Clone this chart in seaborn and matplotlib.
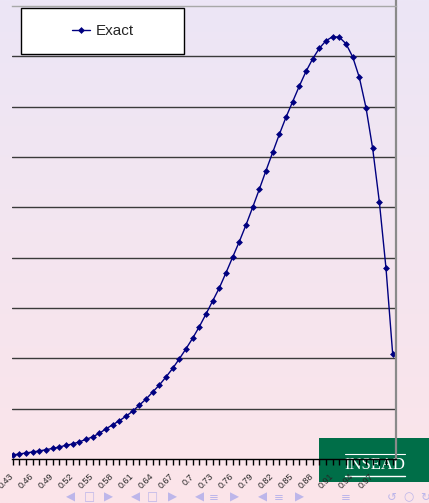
import numpy as np
import pandas as pd
import matplotlib
matplotlib.use('Agg')
import matplotlib.pyplot as plt
import seaborn as sns
from matplotlib.patches import Rectangle
from matplotlib.lines import Line2D

# Tamanho final em pixels
W, H, DPI = 429, 503, 100

# Categorias do eixo x (0.43 .. 1.00, passo 0.01)
categorias = [round(0.43 + 0.01 * i, 2) for i in range(58)]

# Serie "Exact" (unidades = linhas de grade)
exact = [0.08, 0.10, 0.12, 0.14, 0.16, 0.185, 0.21, 0.24, 0.27, 0.30,
         0.34, 0.39, 0.44, 0.51, 0.60, 0.68, 0.76, 0.85, 0.95, 1.07,
         1.19, 1.33, 1.47, 1.63, 1.80, 1.99, 2.19, 2.40, 2.63, 2.88,
         3.14, 3.40, 3.70, 4.01, 4.32, 4.65, 5.00, 5.36, 5.73, 6.09,
         6.45, 6.79, 7.10, 7.41, 7.70, 7.95, 8.16, 8.31, 8.39, 8.38,
         8.25, 7.99, 7.58, 6.98, 6.17, 5.11, 3.79, 2.09]

# rotulo a cada 3 categorias (o ultimo fica escondido)
rotulos = [f"{c:g}" if (i % 3 == 0 and i < 57) else "" for i, c in enumerate(categorias)]

df = pd.DataFrame({'pos': range(len(exact)), 'exact': exact})

sns.set_style('white')
plt.rcParams['font.family'] = ['Liberation Sans', 'DejaVu Sans']

fig = plt.figure(figsize=(W / DPI, H / DPI), dpi=DPI)

# Fundo em degrade (estilo beamer) + logo
bg = fig.add_axes([0, 0, 1, 1], zorder=0)
grad = np.linspace(0, 1, 256)[:, None, None]
topo = np.array([236, 230, 246]) / 255
base = np.array([252, 228, 233]) / 255
img = topo + (base - topo) * grad
bg.imshow(img, aspect='auto', extent=[0, W, H, 0])
bg.set_xlim(0, W)
bg.set_ylim(H, 0)
bg.axis('off')

bg.add_patch(Rectangle((319, 438), 110, 44, color='#006E48', lw=0))
bg.text(375, 465, 'INSEAD', color='white', ha='center', va='center',
        family='Liberation Serif', fontsize=12)
bg.plot([345, 405], [454, 454], color='white', lw=0.8)
bg.plot([345, 405], [476, 476], color='white', lw=1.0)

# simbolos de navegacao
nav = [(70, '◀'), (89, '□'), (108, '▶'), (135, '◀'), (152, '□'), (172, '▶'),
       (199, '◀'), (214, '≡'), (234, '▶'), (262, '◀'), (279, '≡'), (299, '▶'),
       (346, '≡'), (392, '↺'), (408, '○'), (425, '↻')]
for x, s in nav:
    bg.text(x, 497, s, color='#bdb6ea', ha='center', va='center',
            fontsize=8.5, family='DejaVu Sans')

# Grafico principal
ax = fig.add_axes([12 / W, 1 - 459 / H, (396 - 12) / W, (459 - 6) / H], zorder=2)
ax.set_facecolor('none')

sns.lineplot(data=df, x='pos', y='exact', marker='D', markersize=3.5,
             markeredgewidth=0, color='#000080', linewidth=1,
             label='Exact', ax=ax)

ax.set_xlim(-0.1, 57.5)
ax.set_ylim(0, 9)
ax.set_yticks(range(1, 9))
ax.yaxis.grid(True, color='#3a3a3a', lw=1)
ax.tick_params(axis='y', left=False, labelleft=False)
ax.set_xlabel('')
ax.set_ylabel('')

ax.spines['left'].set_visible(False)
ax.spines['right'].set_visible(False)
ax.spines['top'].set_color('#a8a8a8')
ax.spines['top'].set_linewidth(1)
ax.spines['bottom'].set_color('black')
ax.spines['bottom'].set_linewidth(1)

ax.set_xticks(range(len(categorias)))
ax.set_xticklabels(rotulos)
ax.tick_params(axis='x', direction='out', length=4, width=1, color='black',
               labelsize=6.5, pad=7.5, bottom=True)
for lbl in ax.get_xticklabels():
    lbl.set_rotation(45)
    lbl.set_ha('right')
    lbl.set_va('center')
    lbl.set_rotation_mode('anchor')

# linha vertical cinza a direita
ax.add_line(Line2D([396 / W, 396 / W], [1 - 460 / H, 1], transform=fig.transFigure,
                   color='#8a8a8a', lw=1.6, clip_on=False))

# caixa da legenda
ax.add_patch(Rectangle((20.7 / W, 1 - 54.3 / H), 163 / W, 46 / H,
                       transform=fig.transFigure, fc='white', ec='black',
                       lw=1, clip_on=False, zorder=4))
leg = ax.legend(loc='center', bbox_to_anchor=(103 / W, 1 - 31 / H),
                bbox_transform=fig.transFigure, frameon=False, fontsize=11,
                handlelength=1.2, handletextpad=0.35)
leg.set_zorder(5)

fig.savefig('out.png', dpi=DPI)
